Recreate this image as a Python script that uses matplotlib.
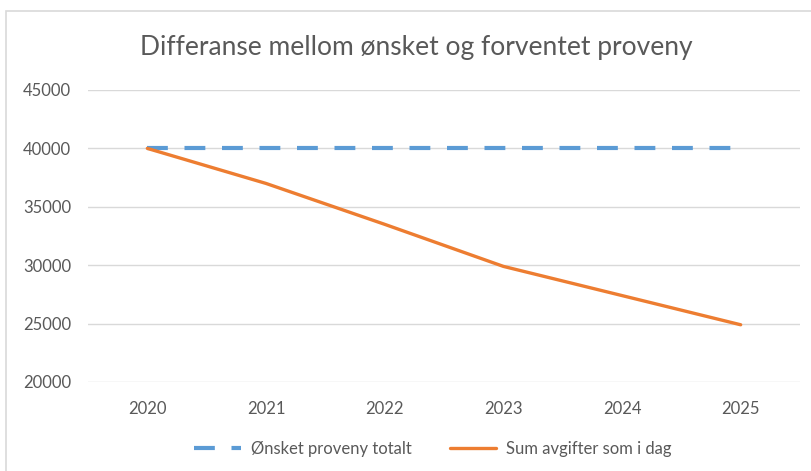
import matplotlib.pyplot as plt
from matplotlib.patches import Rectangle

years = ['2020', '2021', '2022', '2023', '2024', '2025']
onsket = [40000, 40000, 40000, 40000, 40000, 40000]
sum_avgifter = [40000, 37000, 33500, 29900, 27400, 24900]
y_ticks = [20000, 25000, 30000, 35000, 40000, 45000]

plt.rcParams['font.family'] = ['Lato', 'DejaVu Sans']
text_col = '#595959'

fig = plt.figure(figsize=(8.11, 4.71), dpi=100)
fig.patches.append(Rectangle((6 / 811, -0.2), 1.2, 1.2 - 11 / 471,
                             transform=fig.transFigure, fill=False,
                             edgecolor='#d9d9d9', lw=1.2))

ax = fig.add_axes([88 / 811, 1 - 382 / 471, 712 / 811, 292 / 471])
x = range(len(years))
ax.plot(x, onsket, color='#5B9BD5', lw=3, dashes=(5, 4),
        label='Ønsket proveny totalt')
ax.plot(x, sum_avgifter, color='#ED7D31', lw=2.4, solid_capstyle='round',
        label='Sum avgifter som i dag')

ax.set_xlim(-0.5, len(years) - 0.5)
ax.set_ylim(20000, 45000)
ax.set_yticks(y_ticks)
ax.set_yticklabels([str(v) for v in y_ticks])
ax.set_xticks(list(x))
ax.set_xticklabels(years)
ax.grid(axis='y', color='#d9d9d9', lw=1)
ax.set_axisbelow(True)
for s in ax.spines.values():
    s.set_visible(False)
ax.tick_params(length=0, colors=text_col, labelsize=12)
ax.tick_params(axis='x', pad=14)
ax.tick_params(axis='y', pad=12)

fig.text(416 / 811, 1 - 47 / 471, 'Differanse mellom ønsket og forventet proveny',
         ha='center', va='center', fontsize=19, color=text_col)

fig.legend(loc='center', bbox_to_anchor=(433 / 811, 1 - 449 / 471), ncol=2,
           frameon=False, fontsize=12, labelcolor=text_col, handlelength=2.8,
           handletextpad=0.6, columnspacing=2.3)

fig.savefig('out.png', dpi=100)
